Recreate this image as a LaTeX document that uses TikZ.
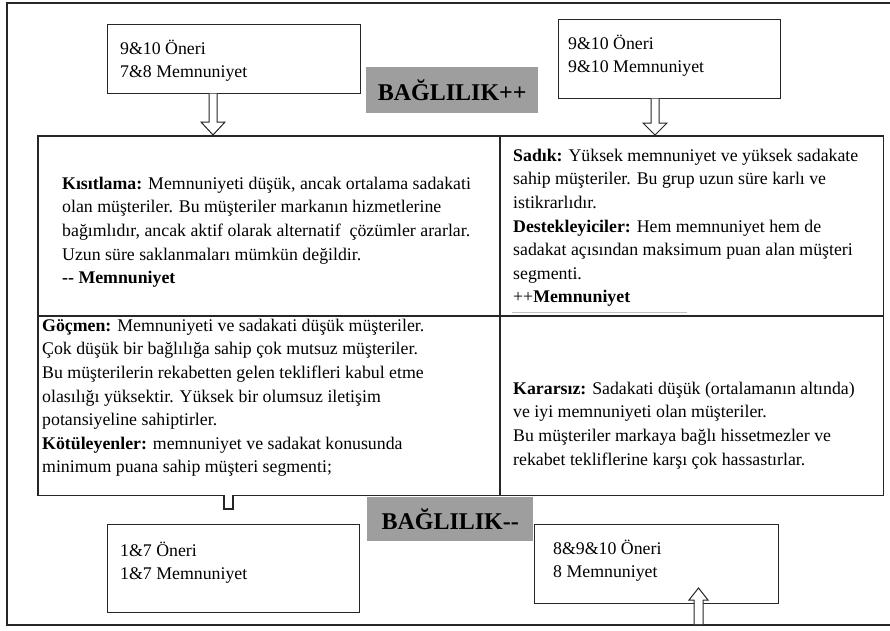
\documentclass[tikz,border=0pt]{standalone}
\usepackage{fontspec}
\setmainfont{Liberation Serif}
\definecolor{boxgray}{RGB}{158,158,158}
\begin{document}
\begin{tikzpicture}[x=1pt,y=-1pt,
  frameline/.style={line width=2pt,black!85},
  tableline/.style={line width=1.8pt,black!85},
  smallbox/.style={draw=black!85,line width=1.2pt,fill=white,anchor=north west,inner sep=0},
  celltext/.style={anchor=north west,inner sep=0,align=left,font=\fontsize{17.8}{23.6}\selectfont},
  graybox/.style={fill=boxgray,anchor=north west,inner sep=0},
  graylabel/.style={font=\fontsize{24}{27}\selectfont\bfseries,inner sep=0},
  blockarrow/.style={draw=black!85,line width=1pt,fill=white,line join=miter}]
\useasboundingbox (0,0) rectangle (890,630);
% outer frame
\draw[frameline] (893,3) -- (7,3) -- (7,625) -- (893,625);
% table
\node[draw=none,anchor=north west,minimum width=845,minimum height=359,inner sep=0] (tbl) at (38,136) {};
\coordinate (vtop) at (500,136);
\coordinate (vbot) at (500,495);
\coordinate (hl) at (38,316);
\coordinate (hr) at (883,316);
\draw[tableline] (tbl.north west) rectangle (tbl.south east);
\draw[tableline] (vtop) -- (vbot);
\draw[tableline] (hl) -- (hr);
\draw[gray!50,line width=0.6pt] (512,312.5) -- (687,312.5);
% notch at bottom of left cell
\fill[white] (225,492) rectangle (232,498);
\draw[black!85,line width=1.2pt] (224,495) -- (224,509) -- (233,509) -- (233,495);
% gray labels
\node[graybox,minimum width=172,minimum height=46] (gtop) at (366,67) {};
\node[graylabel] at (gtop.center) {BAĞLILIK++};
\node[graybox,minimum width=166,minimum height=44] (gbot) at (367,497) {};
\node[graylabel] at (gbot.center) {BAĞLILIK-{}-};
% small boxes
\node[smallbox,minimum width=253,minimum height=69] (b1) at (107,24) {};
\node[smallbox,minimum width=222,minimum height=79] (b2) at (558,19) {};
\node[smallbox,minimum width=252,minimum height=88] (b3) at (107,524) {};
\node[smallbox,minimum width=244,minimum height=79] (b4) at (534,524) {};
\node[celltext] (t1) at (120,37.5) {\strut 9\&10 Öneri\\7\&8 Memnuniyet};
\node[celltext] (t2) at (568,32.5) {\strut 9\&10 Öneri\\9\&10 Memnuniyet};
\node[celltext] (t3) at (120,539.5) {\strut 1\&7 Öneri\\1\&7 Memnuniyet};
\node[celltext] (t4) at (553,537.5) {\strut 8\&9\&10 Öneri\\8 Memnuniyet};
% block arrows
\draw[blockarrow] (209,93.5) -- (209,122) -- (201,122) -- (213,135) -- (225,122) -- (217,122) -- (217,93.5);
\draw[blockarrow] (651,98.5) -- (651,123) -- (643,123) -- (655,135) -- (667,123) -- (659,123) -- (659,98.5);
\draw[blockarrow] (694,624) -- (694,600) -- (689,600) -- (698.5,588) -- (708,600) -- (703,600) -- (703,624);
% cell texts
\node[celltext] (c1) at (62,172.5) {\strut\textbf{Kısıtlama:} Memnuniyeti düşük, ancak ortalama sadakati\\
olan müşteriler. Bu müşteriler markanın hizmetlerine\\
bağımlıdır, ancak aktif olarak alternatif \ çözümler ararlar.\\
Uzun süre saklanmaları mümkün değildir.\\
\textbf{-{}- Memnuniyet}};
\node[celltext] (c2) at (513,144.5) {\strut\textbf{Sadık:} Yüksek memnuniyet ve yüksek sadakate\\
sahip müşteriler. Bu grup uzun süre karlı ve\\
istikrarlıdır.\\
\textbf{Destekleyiciler:} Hem memnuniyet hem de\\
sadakat açısından maksimum puan alan müşteri\\
segmenti.\\
++\textbf{Memnuniyet}};
\node[celltext] (c3) at (42,314.5) {\strut\textbf{Göçmen:} Memnuniyeti ve sadakati düşük müşteriler.\\
Çok düşük bir bağlılığa sahip çok mutsuz müşteriler.\\
Bu müşterilerin rekabetten gelen teklifleri kabul etme\\
olasılığı yüksektir. Yüksek bir olumsuz iletişim\\
potansiyeline sahiptirler.\\
\textbf{Kötüleyenler:} memnuniyet ve sadakat konusunda\\
minimum puana sahip müşteri segmenti;};
\node[celltext] (c4) at (513,377.5) {\strut\textbf{Kararsız:} Sadakati düşük (ortalamanın altında)\\
ve iyi memnuniyeti olan müşteriler.\\
Bu müşteriler markaya bağlı hissetmezler ve\\
rekabet tekliflerine karşı çok hassastırlar.};
\end{tikzpicture}
\end{document}
